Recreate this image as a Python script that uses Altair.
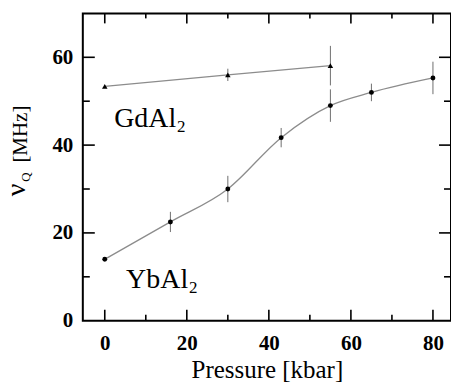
import altair as alt
import pandas as pd

# --- data ---
gd_p = [0, 30, 55]
gd_v = [53.4, 56.0, 58.1]
gd_err = [0.0, 1.4, 4.5]

yb_p = [0, 16, 30, 43, 55, 65, 80]
yb_v = [14.0, 22.5, 30.0, 41.7, 49.0, 52.0, 55.3]
yb_err = [0.0, 2.3, 3.0, 2.2, 3.7, 2.0, 3.7]

x_major = [0, 20, 40, 60, 80]
x_minor = [10, 30, 50, 70]
y_major = [0, 20, 40, 60]
y_minor = [10, 30, 50]

W, H = 369, 308
FONT = "Liberation Serif"

xs = alt.Scale(domain=[-5.35, 84.4], nice=False, zero=False)
ys = alt.Scale(domain=[0, 70], nice=False, zero=False)

gd = pd.DataFrame({"p": gd_p, "v": gd_v, "err": gd_err})
gd["lo"] = gd["v"] - gd["err"]
gd["hi"] = gd["v"] + gd["err"]
yb = pd.DataFrame({"p": yb_p, "v": yb_v, "err": yb_err})
yb["lo"] = yb["v"] - yb["err"]
yb["hi"] = yb["v"] + yb["err"]

LINE_C = "#8c8c8c"
ERR_C = "#6e6e6e"

xaxis = alt.Axis(values=x_major, ticks=False, domain=False, grid=False,
                 labelFont=FONT, labelFontSize=21, labelFontWeight="bold",
                 labelColor="black", labelPadding=12,
                 title="Pressure [kbar]", titleFont=FONT, titleFontSize=25,
                 titleFontWeight="normal", titleColor="black", titlePadding=4)
yaxis = alt.Axis(values=y_major, ticks=False, domain=False, grid=False,
                 labelFont=FONT, labelFontSize=21, labelFontWeight="bold",
                 labelColor="black", labelPadding=10, title=None)

X = lambda f: alt.X(f, scale=xs, axis=xaxis)
Y = lambda f: alt.Y(f, scale=ys, axis=yaxis)

gd_line = alt.Chart(gd).mark_line(color=LINE_C, strokeWidth=1.3).encode(
    x=X("p:Q"), y=Y("v:Q"))
yb_line = alt.Chart(yb).mark_line(color=LINE_C, strokeWidth=1.3,
                                  interpolate="monotone").encode(
    x=X("p:Q"), y=Y("v:Q"))

def errbars(df):
    return alt.Chart(df[df["err"] > 0]).mark_rule(color=ERR_C, strokeWidth=1).encode(
        x=X("p:Q"), y=Y("lo:Q"), y2="hi:Q")

gd_pts = alt.Chart(gd).mark_point(shape="triangle-up", filled=True, color="black",
                                  size=30, opacity=1).encode(x=X("p:Q"), y=Y("v:Q"))
yb_pts = alt.Chart(yb).mark_point(shape="circle", filled=True, color="black",
                                  size=24, opacity=1).encode(x=X("p:Q"), y=Y("v:Q"))

# inward tick marks on all four sides
def xticks(vals, length, side):
    df = pd.DataFrame({"t": vals})
    if side == "bottom":
        y1, y2 = H, H - length
    else:
        y1, y2 = 0, length
    return alt.Chart(df).mark_rule(color="black", strokeWidth=1.6).encode(
        x=X("t:Q"), y=alt.value(y1), y2=alt.value(y2))

def yticks(vals, length, side):
    df = pd.DataFrame({"t": vals})
    if side == "left":
        x1, x2 = 0, length
    else:
        x1, x2 = W, W - length
    return alt.Chart(df).mark_rule(color="black", strokeWidth=1.6).encode(
        y=Y("t:Q"), x=alt.value(x1), x2=alt.value(x2))

ticks = [
    xticks(x_major, 11, "bottom"), xticks(x_minor, 6, "bottom"),
    xticks(x_major, 10, "top"), xticks(x_minor, 5, "top"),
    yticks(y_major[1:], 12, "left"), yticks(y_minor, 7, "left"),
    yticks(y_major[1:], 12, "right"), yticks(y_minor, 7, "right"),
]

# compound labels (data coordinates of their left baseline)
lab = pd.DataFrame({"p": [2.3, 5.2], "v": [44.2, 7.5], "t": ["GdAl", "YbAl"],
                    "sub": ["2", "2"]})
lab_main = alt.Chart(lab).mark_text(font=FONT, fontSize=28, align="left",
                                    baseline="alphabetic", color="black").encode(
    x=X("p:Q"), y=Y("v:Q"), text="t:N")
lab_sub = alt.Chart(lab).mark_text(font=FONT, fontSize=17, align="left",
                                   baseline="alphabetic", color="black",
                                   dx=63, dy=5).encode(
    x=X("p:Q"), y=Y("v:Q"), text="sub:N")

# y-axis title: nu with subscript Q, then [MHz]
nu = alt.Chart(pd.DataFrame({"s": ["ν"]})).mark_text(
    font=FONT, fontSize=28, angle=270, align="center", baseline="alphabetic",
    color="black").encode(text="s:N", x=alt.value(-58), y=alt.value(177))
q = alt.Chart(pd.DataFrame({"s": ["Q"]})).mark_text(
    font=FONT, fontSize=13, angle=270, align="center", baseline="alphabetic",
    color="black").encode(text="s:N", x=alt.value(-53), y=alt.value(164))
mhz = alt.Chart(pd.DataFrame({"s": ["[MHz]"]})).mark_text(
    font=FONT, fontSize=21, angle=270, align="center", baseline="alphabetic",
    color="black").encode(text="s:N", x=alt.value(-56), y=alt.value(121))

chart = alt.layer(
    gd_line, yb_line, errbars(gd), errbars(yb), gd_pts, yb_pts,
    *ticks, lab_main, lab_sub, nu, q, mhz,
).properties(
    width=W, height=H,
    autosize=alt.AutoSizeParams(type="none"),
    padding={"left": 83, "top": 13, "right": 0, "bottom": 64},
    background="white",
).configure_view(stroke="black", strokeWidth=2)

chart.save("out.html", embed_options={"renderer": "svg", "actions": False})
